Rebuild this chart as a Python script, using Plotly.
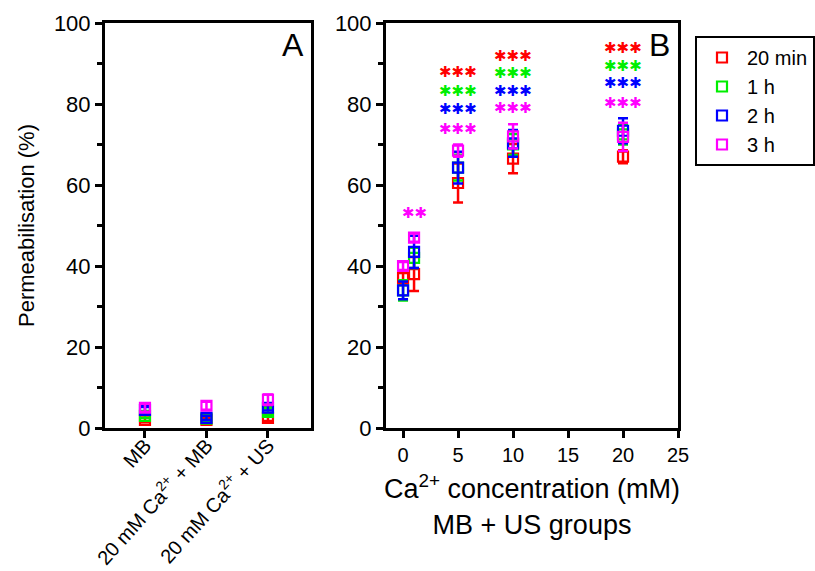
import plotly.graph_objects as go

# ---- data ----
series_names = ["20 min", "1 h", "2 h", "3 h"]
series_colors = ["#FF0000", "#00EE00", "#0000FF", "#FF00FF"]

# Panel A: control groups
groups_a = ["MB", "20 mM Ca<sup>2+</sup> + MB", "20 mM Ca<sup>2+</sup> + US"]
a_20min = [2.0, 2.0, 2.5]
a_20min_err = [0.6, 0.5, 0.8]
a_1h = [3.0, 2.3, 4.0]
a_1h_err = [0.5, 0.7, 0.8]
a_2h = [4.5, 2.5, 5.0]
a_2h_err = [0.7, 0.5, 0.7]
a_3h = [5.0, 5.5, 7.0]
a_3h_err = [1.0, 1.0, 1.3]

# Panel B: MB + US groups vs Ca2+ concentration
conc = [0, 1, 5, 10, 20]
b_20min = [37.0, 38.0, 60.5, 66.5, 67.0]
b_20min_err = [1.5, 4.2, 4.8, 3.6, 1.6]
b_1h = [34.0, 42.0, 64.3, 70.0, 72.5]
b_1h_err = [2.5, 2.5, 3.2, 2.6, 2.5]
b_2h = [34.0, 43.5, 64.3, 70.3, 73.4]
b_2h_err = [2.2, 4.0, 3.9, 3.3, 3.1]
b_3h = [40.0, 47.0, 68.5, 72.0, 71.9]
b_3h_err = [1.0, 1.0, 1.5, 3.0, 3.5]

# significance markers per series
star_x = [5, 10, 20]
star_20min_y = [88.0, 91.8, 93.8]
star_1h_y = [83.2, 87.6, 89.4]
star_2h_y = [78.8, 83.2, 85.2]
star_3h_y = [73.8, 79.0, 80.3]
star_3h_extra_x = [1]
star_3h_extra_y = [53.0]
STAR = "\u2731"

a_means = [a_20min, a_1h, a_2h, a_3h]
a_errs = [a_20min_err, a_1h_err, a_2h_err, a_3h_err]
b_means = [b_20min, b_1h, b_2h, b_3h]
b_errs = [b_20min_err, b_1h_err, b_2h_err, b_3h_err]
stars_y = [star_20min_y, star_1h_y, star_2h_y, star_3h_y]

FONT = "Arial, Liberation Sans, sans-serif"
STAR_FONT = "DejaVu Sans, sans-serif"
W, H = 815, 571

fig = go.Figure()


def marker_style(color):
    return dict(symbol="square-open", size=10, color=color, line=dict(width=2.2, color=color))


for name, color, m, e in zip(series_names, series_colors, a_means, a_errs):
    fig.add_trace(go.Scatter(
        x=groups_a, y=m, mode="markers", name=name, showlegend=False, legendgroup=name,
        marker=marker_style(color),
        error_y=dict(type="data", array=e, color=color, thickness=2.5, width=5),
        xaxis="x", yaxis="y",
    ))

for name, color, m, e in zip(series_names, series_colors, b_means, b_errs):
    fig.add_trace(go.Scatter(
        x=conc, y=m, mode="markers", name=name, showlegend=True, legendgroup=name,
        marker=marker_style(color),
        error_y=dict(type="data", array=e, color=color, thickness=2.5, width=5),
        xaxis="x2", yaxis="y2",
    ))

# significance annotations
annotations = []
for color, ys in zip(series_colors, stars_y):
    for xv, yv in zip(star_x, ys):
        annotations.append(dict(x=xv, y=yv, xref="x2", yref="y2", text=STAR * 3, showarrow=False,
                                font=dict(family=STAR_FONT, size=15, color=color)))
for xv, yv in zip(star_3h_extra_x, star_3h_extra_y):
    annotations.append(dict(x=xv, y=yv, xref="x2", yref="y2", text=STAR * 2, showarrow=False,
                            font=dict(family=STAR_FONT, size=15, color=series_colors[3])))

# panel letters
annotations.append(dict(x=0.975, y=0.995, xref="x domain", yref="y domain", text="A", showarrow=False,
                        xanchor="right", yanchor="top", font=dict(family=FONT, size=32, color="black")))
annotations.append(dict(x=0.98, y=0.995, xref="x2 domain", yref="y2 domain", text="B", showarrow=False,
                        xanchor="right", yanchor="top", font=dict(family=FONT, size=32, color="black")))

axis_common = dict(showline=True, linewidth=3, linecolor="black", mirror=True,
                   ticks="outside", ticklen=7, tickwidth=3, tickcolor="black",
                   showgrid=False, zeroline=False, automargin=False)
minor_y = dict(dtick=10, ticks="outside", ticklen=5, tickwidth=2.5, tickcolor="black")

ydom = [1 - 428 / H, 1 - 23 / H]

fig.update_layout(
    width=W, height=H,
    margin=dict(l=0, r=0, t=0, b=0, autoexpand=False),
    paper_bgcolor="white", plot_bgcolor="white",
    font=dict(family=FONT, color="black"),
    xaxis=dict(domain=[105 / W, 311 / W], range=[-0.65, 2.7], type="category",
               tickangle=-48, tickfont=dict(size=20), ticklabelstandoff=-12, **axis_common),
    yaxis=dict(domain=ydom, range=[0, 100], dtick=20, tickfont=dict(size=22),
               title=dict(text="Permeabilisation (%)", font=dict(size=22), standoff=14),
               minor=minor_y, **axis_common),
    xaxis2=dict(domain=[386 / W, 678 / W], range=[-1.55, 25], dtick=5, tickfont=dict(size=20),
                title=dict(text="Ca<sup>2+</sup> concentration (mM)<br>MB + US groups",
                           font=dict(size=27), standoff=15),
                anchor="y2", **axis_common),
    yaxis2=dict(domain=ydom, range=[0, 100], dtick=20, tickfont=dict(size=22), anchor="x2",
                minor=minor_y, **axis_common),
    legend=dict(x=695 / W, y=1 - 36 / H, xanchor="left", yanchor="top",
                bordercolor="black", borderwidth=2, bgcolor="white", tracegroupgap=0,
                font=dict(family=FONT, size=20, color="black"), itemwidth=40),
    annotations=annotations,
)

fig.write_html("out.html")
